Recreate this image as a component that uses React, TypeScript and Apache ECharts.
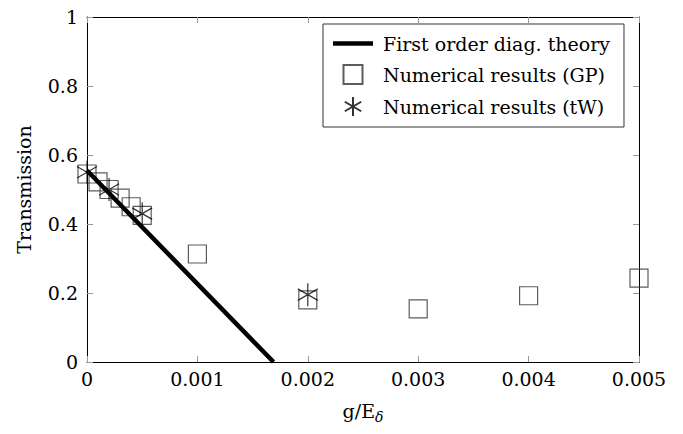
import React, { useEffect, useRef } from "react";
import * as echarts from "echarts";

const xTicks = [0, 0.001, 0.002, 0.003, 0.004, 0.005];
const yTicks = [0, 0.2, 0.4, 0.6, 0.8, 1];

const theoryX = [0, 0.00169];
const theoryY = [0.555, 0];

const gpX = [0, 0.0001, 0.0002, 0.0003, 0.0004, 0.0005, 0.001, 0.002, 0.003, 0.004, 0.005];
const gpY = [0.545, 0.522, 0.5, 0.475, 0.45, 0.425, 0.313, 0.18, 0.154, 0.192, 0.243];

const twX = [0, 0.0002, 0.0005, 0.002];
const twY = [0.55, 0.5, 0.43, 0.195];

const seriesNames = [
  "First order diag. theory",
  "Numerical results (GP)",
  "Numerical results (tW)",
];

const FONT = "DejaVu Serif";
const STAR = "path://M0 -1L0 1M-0.866 -0.5L0.866 0.5M-0.866 0.5L0.866 -0.5";
const SQUARE = "path://M0 0H10V10H0Z";
const LINEICON = "path://M0 0H40V4.5H0Z";

const zip = (xs: number[], ys: number[]) => xs.map((x, i) => [x, ys[i]]);

export default function App() {
  const ref = useRef<HTMLDivElement>(null);
  useEffect(() => {
    if (!ref.current) return;
    const chart = echarts.init(ref.current, undefined, { renderer: "svg" });
    const tickStyle = { show: true, inside: true, length: 6, lineStyle: { color: "#999", width: 1 } };
    const axisLine = { show: true, onZero: false, lineStyle: { color: "#000", width: 1 } };
    const xBase = {
      type: "value" as const,
      min: xTicks[0],
      max: xTicks[xTicks.length - 1],
      interval: xTicks[1] - xTicks[0],
      axisLine,
      axisTick: tickStyle,
      splitLine: { show: false },
    };
    const yBase = {
      type: "value" as const,
      min: yTicks[0],
      max: yTicks[yTicks.length - 1],
      interval: yTicks[1] - yTicks[0],
      axisLine,
      axisTick: tickStyle,
      splitLine: { show: false },
    };
    chart.setOption({
      animation: false,
      backgroundColor: "#fff",
      grid: { left: 87, right: 44, top: 17, bottom: 72, show: false },
      xAxis: [
        {
          ...xBase,
          position: "bottom",
          axisLabel: { fontFamily: FONT, fontSize: 19, color: "#000", margin: 7 },
          name: "{a|g/E}{b|δ}",
          nameLocation: "middle",
          nameGap: 36,
          nameTextStyle: {
            rich: {
              a: { fontFamily: FONT, fontSize: 19, color: "#000" },
              b: { fontFamily: FONT, fontSize: 14, fontStyle: "italic", color: "#000", padding: [12, 0, 0, 0] },
            },
          },
        },
        { ...xBase, position: "top", axisLabel: { show: false } },
      ],
      yAxis: [
        {
          ...yBase,
          position: "left",
          axisLabel: { fontFamily: FONT, fontSize: 19, color: "#000", margin: 9 },
          name: "Transmission",
          nameLocation: "middle",
          nameGap: 54,
          nameTextStyle: { fontFamily: FONT, fontSize: 19, color: "#000" },
        },
        { ...yBase, position: "right", axisLabel: { show: false } },
      ],
      legend: {
        orient: "vertical",
        left: 323,
        top: 24,
        itemWidth: 40,
        itemHeight: 19,
        itemGap: 11,
        padding: [10, 14, 10, 10],
        borderColor: "#333",
        borderWidth: 1,
        backgroundColor: "#fff",
        textStyle: { fontFamily: FONT, fontSize: 19, color: "#000", padding: [0, 0, 0, 5] },
        data: [
          { name: seriesNames[0], icon: LINEICON, itemStyle: { color: "#000", borderWidth: 0 } },
          { name: seriesNames[1], icon: SQUARE },
          { name: seriesNames[2], icon: STAR },
        ],
      },
      series: [
        {
          name: seriesNames[1],
          type: "scatter",
          data: zip(gpX, gpY),
          symbol: SQUARE,
          symbolSize: 18,
          itemStyle: { color: "transparent", borderColor: "#333", borderWidth: 1.2 },
          z: 2,
        },
        {
          name: seriesNames[0],
          type: "line",
          data: zip(theoryX, theoryY),
          showSymbol: false,
          symbol: "none",
          lineStyle: { color: "#000", width: 4.5 },
          itemStyle: { color: "#000" },
          z: 3,
        },
        {
          name: seriesNames[2],
          type: "scatter",
          data: zip(twX, twY),
          symbol: STAR,
          symbolSize: [20, 23],
          itemStyle: { color: "transparent", borderColor: "#000", borderWidth: 1.3 },
          z: 4,
        },
      ],
    });
    return () => chart.dispose();
  }, []);
  return (
    <div
      ref={ref}
      style={{ position: "fixed", left: 0, top: 0, width: 683, height: 434, background: "#fff" }}
    />
  );
}
